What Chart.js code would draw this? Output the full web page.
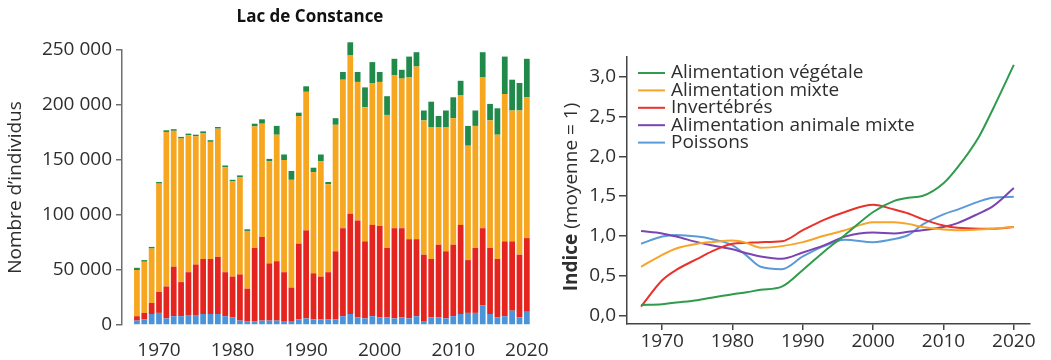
<!DOCTYPE html>
<html>
<head>
<meta charset="utf-8">
<script src="https://cdn.jsdelivr.net/npm/chart.js@4/dist/chart.umd.min.js"></script>
<style>
  html, body { margin: 0; padding: 0; background: #ffffff; }
  #wrap { position: relative; width: 1051px; height: 360px; overflow: hidden; }
  #left { position: absolute; left: 0; top: 0; }
  #right { position: absolute; left: 555px; top: 0; }
</style>
</head>
<body>
<div id="wrap">
  <canvas id="left" width="555" height="360"></canvas>
  <canvas id="right" width="496" height="360"></canvas>
</div>
<script>
// ---------- Left panel: Lac de Constance (stacked bars) ----------
const years = [1967,1968,1969,1970,1971,1972,1973,1974,1975,1976,1977,1978,1979,1980,1981,1982,1983,1984,1985,1986,1987,1988,1989,1990,1991,1992,1993,1994,1995,1996,1997,1998,1999,2000,2001,2002,2003,2004,2005,2006,2007,2008,2009,2010,2011,2012,2013,2014,2015,2016,2017,2018,2019,2020];
const poissonsCount = [4000,5000,10000,11000,6000,8000,8000,9000,9000,10000,10000,10000,8000,7000,4000,3500,3500,4000,4000,4000,3000,3000,5000,6000,5000,5000,5000,5000,8000,10000,7000,6000,8000,7000,7000,6000,7000,6000,8000,3000,7000,7000,6000,8000,10000,11000,11000,18000,10000,7000,8000,13000,7000,12000];
const invertebresCount = [4000,6000,10000,19000,29000,45000,31000,39000,46000,50000,50000,52000,40000,37000,42000,29500,66500,76000,52000,54000,45000,31000,69000,80000,42000,39000,43000,62000,80000,91000,88000,70000,83000,83000,63000,82000,81000,72000,70000,61000,53000,66000,61000,65000,81000,48000,59000,70000,60000,53000,68000,63000,57000,67000];
const mixteCount = [42000,46500,49500,98500,140500,123500,130500,124500,116500,114500,106500,116500,95500,86500,88500,52500,110500,103000,93000,115000,102000,98000,116000,126000,92000,105000,80000,115000,135000,144000,126000,122000,129000,131000,121000,139000,136000,147000,157000,122000,120000,107000,113000,115000,118000,104000,111000,137000,116000,113000,134000,119000,131000,128000];
const vegetaleCount = [2000,1500,1500,1500,1500,1500,1500,1500,1500,1500,1500,1500,1500,1500,1500,1500,2500,4000,2000,8000,5000,8000,3000,5000,4000,6000,2000,6000,7000,12000,9000,18000,19000,9000,17000,15000,8000,19000,13000,9000,23000,10000,15000,19000,13000,18000,14000,23000,15000,24000,34000,28000,25000,35000];
const leftTicks = [0,50000,100000,150000,200000,250000];
const decadeTicks = [1970,1980,1990,2000,2010,2020];

// ---------- Right panel: indices ----------
const idxYears = [1967,1970,1972,1975,1977,1980,1982,1984,1987,1990,1993,1996,2000,2003,2005,2007,2010,2012,2015,2017,2020];
const idxVegetale = [0.13,0.14,0.16,0.19,0.22,0.265,0.29,0.32,0.36,0.57,0.80,1.01,1.30,1.44,1.48,1.50,1.66,1.86,2.24,2.59,3.15];
const idxMixte = [0.61,0.76,0.84,0.90,0.92,0.94,0.91,0.85,0.87,0.92,1.00,1.07,1.17,1.17,1.15,1.11,1.08,1.07,1.08,1.09,1.11];
const idxInvert = [0.11,0.44,0.57,0.71,0.80,0.90,0.91,0.92,0.93,1.07,1.20,1.30,1.39,1.33,1.28,1.21,1.13,1.10,1.09,1.09,1.11];
const idxAnimaleMixte = [1.06,1.03,0.99,0.92,0.88,0.83,0.78,0.74,0.71,0.79,0.88,0.99,1.04,1.03,1.05,1.07,1.11,1.16,1.28,1.37,1.60];
const idxPoissons = [0.90,0.99,1.01,0.99,0.96,0.88,0.75,0.61,0.58,0.74,0.87,0.95,0.92,0.96,1.01,1.14,1.27,1.33,1.43,1.48,1.49];
const rightTicks = [0,0.5,1,1.5,2,2.5,3];

const FONT = "'Open Sans', 'Noto Sans', sans-serif";
const TXT = '#2e2e2e';
const AXIS = '#6f6f6f';
const C_BLUE = '#4b94d9', C_RED = '#e5231f', C_ORANGE = '#f6a61f', C_GREEN = '#1f8a49', C_PURPLE = '#7a44b3', C_LBLUE = '#5b9ad8', C_LGREEN = '#2f9b4c', C_LORANGE = '#f6a52a', C_LRED = '#e8322a';

const pts = (xs, ys) => xs.map((x, i) => ({ x: x, y: ys[i] }));
const fmtThousands = v => {
  const s = String(Math.round(v));
  return s.replace(/\B(?=(\d{3})+(?!\d))/g, ' ');
};

const leftTitle = {
  id: 'leftTitle',
  afterDraw(chart) {
    const ctx = chart.ctx;
    ctx.save();
    ctx.font = 'bold 17px ' + FONT;
    ctx.fillStyle = '#111';
    ctx.textAlign = 'center';
    ctx.textBaseline = 'middle';
    ctx.fillText('Lac de Constance', 310, 17);
    ctx.restore();
  }
};

const barDs = (label, data, color) => ({
  label, data: pts(years, data), backgroundColor: color, borderWidth: 0,
  stack: 's', barPercentage: 0.78, categoryPercentage: 1, clip: false
});

new Chart(document.getElementById('left'), {
  type: 'bar',
  data: {
    datasets: [
      barDs('Poissons', poissonsCount, C_BLUE),
      barDs('Invertébrés', invertebresCount, C_RED),
      barDs('Alimentation mixte', mixteCount, C_ORANGE),
      barDs('Alimentation végétale', vegetaleCount, C_GREEN)
    ]
  },
  options: {
    responsive: false,
    animation: false,
    layout: { padding: { top: 50, right: 14, left: 0, bottom: 0 } },
    plugins: { legend: { display: false }, tooltip: { enabled: false }, title: { display: false } },
    scales: {
      x: {
        type: 'linear', min: 1964.97, max: 2021.77, stacked: true, offset: false,
        grid: { display: false, offset: false }, border: { display: false },
        afterBuildTicks: s => { s.ticks = decadeTicks.map(v => ({ value: v })); },
        afterFit: s => { s.height = 35; },
        ticks: { autoSkip: false, maxRotation: 0, padding: 6, color: TXT, font: { family: FONT, size: 19 }, callback: v => String(v) }
      },
      y: {
        min: 0, max: 250000, stacked: true,
        afterBuildTicks: s => { s.ticks = leftTicks.map(v => ({ value: v })); },
        afterFit: s => { s.width = 122; },
        grid: { display: true, drawOnChartArea: false, tickLength: 6, color: AXIS, lineWidth: 1.5 },
        border: { display: true, color: AXIS, width: 1.5 },
        ticks: { padding: 4, color: TXT, font: { family: FONT, size: 19 }, callback: v => fmtThousands(v) },
        title: { display: true, text: 'Nombre d’individus', color: TXT, font: { family: FONT, size: 19 }, padding: { top: 4, bottom: 0 } }
      }
    }
  },
  plugins: [leftTitle]
});

// ---------- Right chart ----------
const rightDecor = {
  id: 'rightDecor',
  afterDraw(chart) {
    const ctx = chart.ctx;
    ctx.save();
    ctx.translate(17, 197);
    ctx.rotate(-Math.PI / 2);
    ctx.textBaseline = 'middle';
    ctx.fillStyle = TXT;
    const boldFont = 'bold 19px ' + FONT, regFont = '19px ' + FONT;
    ctx.font = boldFont; const w1 = ctx.measureText('Indice').width;
    ctx.font = regFont; const w2 = ctx.measureText(' (moyenne = 1)').width;
    const start = -(w1 + w2) / 2;
    ctx.textAlign = 'left';
    ctx.font = boldFont; ctx.fillText('Indice', start, 0);
    ctx.font = regFont; ctx.fillText(' (moyenne = 1)', start + w1, 0);
    ctx.restore();

    ctx.save();
    ctx.font = '19px ' + FONT;
    ctx.textBaseline = 'middle';
    ctx.textAlign = 'left';
    chart.data.datasets.forEach((ds, i) => {
      const y = 73 + i * 17.4;
      ctx.strokeStyle = ds.borderColor;
      ctx.lineWidth = 2;
      ctx.beginPath(); ctx.moveTo(83, y); ctx.lineTo(110, y); ctx.stroke();
      ctx.fillStyle = TXT;
      ctx.fillText(ds.label, 116, y);
    });
    ctx.restore();
  }
};

const lineDs = (label, data, color) => ({
  label, data: pts(idxYears, data), borderColor: color, backgroundColor: color,
  borderWidth: 2, pointRadius: 0, cubicInterpolationMode: 'monotone', fill: false
});

new Chart(document.getElementById('right'), {
  type: 'line',
  data: {
    datasets: [
      lineDs('Alimentation végétale', idxVegetale, C_LGREEN),
      lineDs('Alimentation mixte', idxMixte, C_LORANGE),
      lineDs('Invertébrés', idxInvert, C_LRED),
      lineDs('Alimentation animale mixte', idxAnimaleMixte, C_PURPLE),
      lineDs('Poissons', idxPoissons, C_LBLUE)
    ]
  },
  options: {
    responsive: false,
    animation: false,
    layout: { padding: { top: 57, right: 21, left: 0, bottom: 0 } },
    plugins: { legend: { display: false }, tooltip: { enabled: false } },
    scales: {
      x: {
        type: 'linear', min: 1965, max: 2022.3,
        afterBuildTicks: s => { s.ticks = decadeTicks.map(v => ({ value: v })); },
        afterFit: s => { s.height = 36; },
        grid: { display: true, drawOnChartArea: false, tickLength: 6, color: '#444', lineWidth: 1.5 },
        border: { display: true, color: '#444', width: 1.5 },
        ticks: { autoSkip: false, maxRotation: 0, padding: 0, color: TXT, font: { family: FONT, size: 19 }, callback: v => String(v) }
      },
      y: {
        min: -0.11, max: 3.25,
        afterBuildTicks: s => { s.ticks = rightTicks.map(v => ({ value: v })); },
        afterFit: s => { s.width = 72; },
        grid: { display: true, drawOnChartArea: false, tickLength: 8, color: '#444', lineWidth: 1.5 },
        border: { display: true, color: '#444', width: 1.5 },
        ticks: { padding: 3, color: TXT, font: { family: FONT, size: 19 }, callback: v => v.toFixed(1).replace('.', ',') }
      }
    }
  },
  plugins: [rightDecor]
});
</script>
</body>
</html>
